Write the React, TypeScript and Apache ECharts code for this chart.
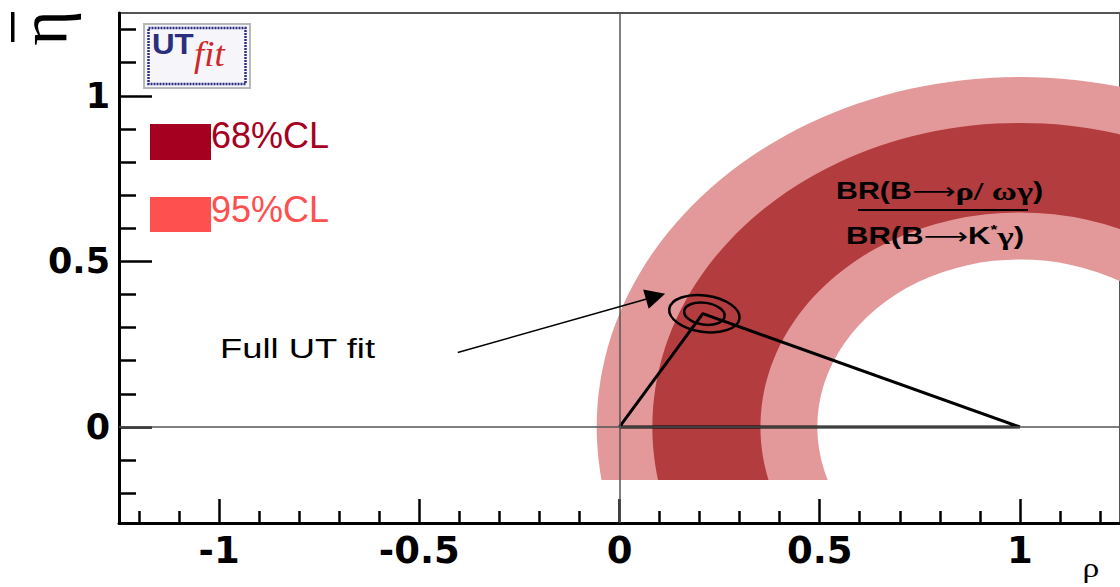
import React, { useEffect, useRef } from "react";
import * as echarts from "echarts";

// ---- axes ----
const xRange = [-1.25, 1.25];
const yRange = [-0.29, 1.25];
const bandCutEta = -0.16; // lower edge of the drawn constraint bands
const xMajorTicks = [-1, -0.5, 0, 0.5, 1];
const xMinorTicks = [-1.2, -1.1, -0.9, -0.8, -0.7, -0.6, -0.4, -0.3, -0.2, -0.1, 0.1, 0.2, 0.3, 0.4, 0.6, 0.7, 0.8, 0.9, 1.1, 1.2];
const yMajorTicks = [0, 0.5, 1];
const yMinorTicks = [-0.2, -0.1, 0.1, 0.2, 0.3, 0.4, 0.6, 0.7, 0.8, 0.9, 1.1, 1.2];

// ---- BR(B->rho gamma)/BR(B->K* gamma) constraint: annuli centred on (1,0) ----
const ringCenter = [1, 0];
const band95 = [0.506, 1.057]; // [inner radius, outer radius]
const band68 = [0.648, 0.918];

// ---- unitarity triangle and full-fit contours ----
const triangle = [
  [0, 0],
  [0.208, 0.342],
  [1, 0],
  [0, 0],
];
const contourCenter = [0.212, 0.342];
const contour68 = [0.051, 0.033]; // semi-axes (rho, eta)
const contour95 = [0.0885, 0.055];
const contourTiltDeg = -8;

// ---- annotation arrow ----
const arrowFrom = [-0.404, 0.225];
const arrowTo = [0.09, 0.394];

const legendLabels = ["68%CL", "95%CL"];
const COL_LIGHT = "#E3989A";
const COL_DARK = "#B23C3E";
const COL_68 = "#A60021";
const COL_95 = "#FF5050";

export default function App() {
  const ref = useRef<HTMLDivElement>(null);

  useEffect(() => {
    if (!ref.current) return;
    const chart = echarts.init(ref.current, null, { renderer: "svg" });

    const gridLeft = 119;
    const gridTop = 13;
    const gridW = 1008;
    const gridH = 510;
    const unitY = gridH / (yRange[1] - yRange[0]);
    const grid2H = (yRange[1] - bandCutEta) * unitY;

    const tickStyle = { color: "#000", width: 2.5 };
    const labelFont = {
      fontFamily: "DejaVu Sans",
      fontWeight: "bold" as const,
      color: "#000",
    };

    const option: any = {
      animation: false,
      backgroundColor: "#fff",
      grid: [
        {
          left: gridLeft,
          top: gridTop,
          width: gridW,
          height: gridH,
          show: true,
          borderColor: "#555",
          borderWidth: 2,
          backgroundColor: "transparent",
        },
        { left: gridLeft, top: gridTop, width: gridW, height: grid2H, show: false },
      ],
      xAxis: [
        {
          type: "value",
          gridIndex: 0,
          min: xRange[0],
          max: xRange[1],
          position: "bottom",
          axisLine: { show: true, onZero: false, lineStyle: { color: "#000", width: 3 } },
          axisTick: { show: true, inside: true, length: 24, customValues: xMajorTicks, lineStyle: tickStyle },
          axisLabel: { show: true, customValues: xMajorTicks, fontSize: 37, margin: 9, ...labelFont },
          splitLine: { show: false },
        },
        {
          type: "value",
          gridIndex: 0,
          min: xRange[0],
          max: xRange[1],
          position: "bottom",
          axisLine: { show: false, onZero: false },
          axisTick: { show: true, inside: true, length: 12, customValues: xMinorTicks, lineStyle: tickStyle },
          axisLabel: { show: false },
          splitLine: { show: false },
        },
        {
          type: "value",
          gridIndex: 1,
          min: xRange[0],
          max: xRange[1],
          show: false,
          splitLine: { show: false },
        },
      ],
      yAxis: [
        {
          type: "value",
          gridIndex: 0,
          min: yRange[0],
          max: yRange[1],
          position: "left",
          axisLine: { show: true, onZero: false, lineStyle: { color: "#000", width: 3 } },
          axisTick: { show: true, inside: true, length: 33, customValues: yMajorTicks, lineStyle: tickStyle },
          axisLabel: { show: true, customValues: yMajorTicks, fontSize: 35, margin: 9, ...labelFont },
          splitLine: { show: false },
        },
        {
          type: "value",
          gridIndex: 0,
          min: yRange[0],
          max: yRange[1],
          position: "left",
          axisLine: { show: false, onZero: false },
          axisTick: { show: true, inside: true, length: 17, customValues: yMinorTicks, lineStyle: tickStyle },
          axisLabel: { show: false },
          splitLine: { show: false },
        },
        {
          type: "value",
          gridIndex: 1,
          min: bandCutEta,
          max: yRange[1],
          show: false,
          splitLine: { show: false },
        },
      ],
      series: [
        {
          // constraint bands (clipped at eta = bandCutEta by grid 1)
          type: "custom",
          xAxisIndex: 2,
          yAxisIndex: 2,
          clip: true,
          silent: true,
          z: 1,
          data: [
            [ringCenter[0], ringCenter[1], band95[0], band95[1], 0],
            [ringCenter[0], ringCenter[1], band68[0], band68[1], 1],
          ],
          renderItem: (params: any, api: any) => {
            const c = api.coord([api.value(0), api.value(1)]);
            const ux = api.size([1, 0])[0];
            const uy = api.size([0, 1])[1];
            const r0 = api.value(2) * ux;
            const r = api.value(3) * ux;
            return {
              type: "ring",
              x: c[0],
              y: c[1],
              scaleX: 1,
              scaleY: uy / ux,
              shape: { cx: 0, cy: 0, r, r0 },
              style: { fill: api.value(4) === 1 ? COL_DARK : COL_LIGHT },
            };
          },
        },
        {
          // rho = 0 and eta = 0 reference lines
          type: "line",
          xAxisIndex: 0,
          yAxisIndex: 0,
          data: [],
          silent: true,
          z: 2,
          markLine: {
            silent: true,
            symbol: ["none", "none"],
            label: { show: false },
            lineStyle: { color: "#555", width: 1.5, type: "solid" },
            data: [{ xAxis: 0 }, { yAxis: 0 }],
          },
        },
        {
          type: "line",
          xAxisIndex: 0,
          yAxisIndex: 0,
          data: triangle,
          symbol: "none",
          silent: true,
          z: 3,
          lineStyle: { color: "#000", width: 3 },
        },
        {
          type: "custom",
          xAxisIndex: 0,
          yAxisIndex: 0,
          silent: true,
          z: 4,
          data: [
            [contourCenter[0], contourCenter[1], contour68[0], contour68[1]],
            [contourCenter[0], contourCenter[1], contour95[0], contour95[1]],
          ],
          renderItem: (params: any, api: any) => {
            const c = api.coord([api.value(0), api.value(1)]);
            const s = api.size([api.value(2), api.value(3)]);
            return {
              type: "ellipse",
              x: c[0],
              y: c[1],
              rotation: (contourTiltDeg * Math.PI) / 180,
              shape: { cx: 0, cy: 0, rx: s[0], ry: s[1] },
              style: { fill: "none", stroke: "#000", lineWidth: 2.5 },
            };
          },
        },
        {
          type: "line",
          xAxisIndex: 0,
          yAxisIndex: 0,
          data: [],
          silent: true,
          z: 5,
          markLine: {
            silent: true,
            symbol: ["none", "triangle"],
            symbolSize: 20,
            label: { show: false },
            itemStyle: { color: "#000" },
            lineStyle: { color: "#000", width: 1.5, type: "solid" },
            data: [[{ coord: arrowFrom }, { coord: arrowTo }]],
          },
        },
      ],
      graphic: [
        // UTfit logo
        {
          type: "rect",
          shape: { x: 144, y: 24, width: 106, height: 64 },
          style: { fill: "#F6F6FA", stroke: "#B8B8B8", lineWidth: 2 },
          z: 10,
        },
        {
          type: "rect",
          shape: { x: 148.5, y: 28, width: 97, height: 56 },
          style: { fill: "none", stroke: "#2C2E86", lineWidth: 2.5, lineDash: [2, 1] },
          z: 10,
        },
        {
          type: "text",
          x: 152,
          y: 44,
          scaleX: 1.08,
          z: 11,
          style: {
            text: "UT",
            font: "bold 29px 'Liberation Sans', Arial, sans-serif",
            fill: "#2B2E7E",
            textVerticalAlign: "middle",
          },
        },
        {
          type: "text",
          x: 194,
          y: 54,
          scaleX: 1.05,
          z: 11,
          style: {
            text: "fit",
            font: "italic 35px 'Liberation Serif', serif",
            fill: "#D02828",
            textVerticalAlign: "middle",
          },
        },
        // legend
        { type: "rect", shape: { x: 150, y: 124, width: 61, height: 36 }, style: { fill: COL_68 }, z: 10 },
        { type: "rect", shape: { x: 150, y: 197, width: 61, height: 35 }, style: { fill: COL_95 }, z: 10 },
        {
          type: "text",
          x: 211,
          y: 135,
          z: 11,
          style: {
            text: legendLabels[0],
            font: "36px 'Liberation Sans', Arial, sans-serif",
            fill: COL_68,
            textVerticalAlign: "middle",
          },
        },
        {
          type: "text",
          x: 211,
          y: 209,
          z: 11,
          style: {
            text: legendLabels[1],
            font: "36px 'Liberation Sans', Arial, sans-serif",
            fill: COL_95,
            textVerticalAlign: "middle",
          },
        },
        // annotation
        {
          type: "text",
          x: 220,
          y: 349,
          scaleX: 1.3,
          z: 11,
          style: {
            text: "Full UT fit",
            font: "28px 'Liberation Sans', Arial, sans-serif",
            fill: "#000",
            textVerticalAlign: "middle",
          },
        },
        // ratio label
        {
          type: "text",
          x: 836,
          y: 191,
          scaleX: 1.32,
          z: 11,
          style: {
            text: "{a|BR(B}{b|⟶}{g|ρ/ ωγ}{a|)}",
            textVerticalAlign: "middle",
            rich: {
              a: { font: "bold 23px 'Liberation Sans', Arial, sans-serif", fill: "#000" },
              b: { font: "23px 'DejaVu Sans', sans-serif", fill: "#000" },
              g: { font: "bold 26px 'Liberation Serif', serif", fill: "#000" },
            },
          },
        },
        { type: "line", shape: { x1: 858, y1: 210, x2: 1028, y2: 210 }, style: { stroke: "#000", lineWidth: 2 }, z: 11 },
        {
          type: "text",
          x: 846,
          y: 236,
          scaleX: 1.35,
          z: 11,
          style: {
            text: "{a|BR(B}{b|⟶}{a|K}{s|*}{g|γ}{a|)}",
            textVerticalAlign: "middle",
            rich: {
              a: { font: "bold 23px 'Liberation Sans', Arial, sans-serif", fill: "#000" },
              b: { font: "23px 'DejaVu Sans', sans-serif", fill: "#000" },
              s: { font: "bold 13px 'Liberation Sans', Arial, sans-serif", fill: "#000", verticalAlign: "top" },
              g: { font: "bold 26px 'Liberation Serif', serif", fill: "#000" },
            },
          },
        },
        // axis titles (cropped in the original)
        {
          type: "text",
          x: 44,
          y: 28,
          rotation: Math.PI / 2,
          z: 11,
          style: {
            text: "η",
            font: "68px 'Liberation Serif', serif",
            fill: "#000",
            textAlign: "center",
            textVerticalAlign: "middle",
          },
        },
        { type: "rect", shape: { x: 11, y: 12, width: 3.5, height: 30 }, style: { fill: "#000" }, z: 11 },
        {
          type: "text",
          x: 1091,
          y: 567,
          scaleX: 1.2,
          z: 11,
          style: {
            text: "ρ",
            font: "28px 'Liberation Serif', serif",
            fill: "#000",
            textAlign: "center",
            textVerticalAlign: "middle",
          },
        },
      ],
    };

    chart.setOption(option);
    return () => chart.dispose();
  }, []);

  return (
    <div
      ref={ref}
      style={{ position: "fixed", left: 0, top: 0, width: 1120, height: 587, background: "#fff" }}
    />
  );
}
